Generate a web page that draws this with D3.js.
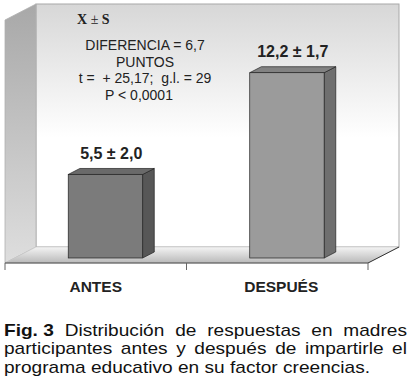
<!DOCTYPE html>
<html><head><meta charset="utf-8">
<script src="https://cdn.jsdelivr.net/npm/d3@7"></script>
<style>html,body{margin:0;padding:0;background:#fff;}svg{display:block;}</style>
</head><body>
<svg id="c" width="411" height="391"></svg>
<script>
const categories = ["ANTES", "DESPUÉS"];
const means = [5.5, 12.2];
const sds = [2.0, 1.7];
const barLabels = ["5,5 ± 2,0", "12,2 ± 1,7"];
const statLines = ["DIFERENCIA = 6,7", "PUNTOS", "t =  + 25,17;  g.l. = 29", "P < 0,0001"];
const yDomain = [0, 16];
const captionLines = [
  [{t:"Fig. 3", b:true}, {t:"Distribución"}, {t:"de"}, {t:"respuestas"}, {t:"en"}, {t:"madres"}],
  [{t:"participantes"}, {t:"antes"}, {t:"y"}, {t:"después"}, {t:"de"}, {t:"impartirle"}, {t:"el"}],
  [{t:"programa"}, {t:"educativo"}, {t:"en"}, {t:"su"}, {t:"factor"}, {t:"creencias."}]
];

const svg = d3.select("#c");
const defs = svg.append("defs");
const font = "'Liberation Sans', Arial, sans-serif";

// geometry
const x0 = 5, x1 = 368, yFront = 263;
const DX = 31, DY = -16;
const y = d3.scaleLinear().domain(yDomain).range([yFront, yFront - 243]);
const x = d3.scaleBand().domain(categories).range([x0, x1]).padding(0);

// gradients
const gBack = defs.append("linearGradient").attr("id","gb").attr("x1",0).attr("y1",0).attr("x2",0).attr("y2",1);
gBack.append("stop").attr("offset","0%").attr("stop-color","#d7d7d7");
gBack.append("stop").attr("offset","55%").attr("stop-color","#ffffff");
gBack.append("stop").attr("offset","100%").attr("stop-color","#ffffff");
const gLeft = defs.append("linearGradient").attr("id","gl").attr("x1",0).attr("y1",0).attr("x2",0).attr("y2",1);
gLeft.append("stop").attr("offset","0%").attr("stop-color","#a8a8a8");
gLeft.append("stop").attr("offset","100%").attr("stop-color","#dedede");
const gFloor = defs.append("linearGradient").attr("id","gf").attr("x1",0).attr("y1",0).attr("x2",0).attr("y2",1);
gFloor.append("stop").attr("offset","0%").attr("stop-color","#f4f4f4");
gFloor.append("stop").attr("offset","100%").attr("stop-color","#b9b9b9");

const yTop = y(yDomain[1]);
// back wall
svg.append("rect").attr("x", x0 + DX).attr("y", yTop + DY)
  .attr("width", x1 - x0).attr("height", yFront - yTop)
  .attr("fill","url(#gb)").attr("stroke","#a8a8a8").attr("stroke-width",1);
// left wall
svg.append("path").attr("d", d3.line()([[x0, yTop],[x0+DX, yTop+DY],[x0+DX, yFront+DY],[x0, yFront]]) + "Z")
  .attr("fill","url(#gl)").attr("stroke","#b0b0b0").attr("stroke-width",0.8);
// floor
svg.append("path").attr("d", d3.line()([[x0, yFront],[x0+DX, yFront+DY],[x1+DX, yFront+DY],[x1, yFront]]) + "Z")
  .attr("fill","url(#gf)").attr("stroke","#c8c8c8").attr("stroke-width",0.6);
// floor front edge & right edge
svg.append("line").attr("x1",x0).attr("x2",x1).attr("y1",yFront).attr("y2",yFront).attr("stroke","#444").attr("stroke-width",1);
svg.append("line").attr("x1",x1).attr("x2",x1+DX).attr("y1",yFront).attr("y2",yFront+DY).attr("stroke","#333").attr("stroke-width",1);
// ticks
const tickX = [x0].concat(categories.map(c => x(c) + x.bandwidth()));
svg.selectAll(".tk").data(tickX).enter().append("line")
  .attr("x1", d=>d).attr("x2", d=>d).attr("y1", yFront).attr("y2", yFront+7)
  .attr("stroke","#666").attr("stroke-width",1);

// bars
const z0 = 5/16, z1 = 11/16;
const ox = DX*z0, oy = DY*z0;
const bdx = DX*(z1-z0), bdy = DY*(z1-z0);
const bw = x.bandwidth()*0.41;
const cols = [
  {front:"#7b7b7b", side:"#575757", top:"#6a6a6a"},
  {front:"#9b9b9b", side:"#6f6f6f", top:"#828282"}
];
const bars = svg.selectAll(".bar").data(categories.map((c,i)=>({c, v:means[i], i}))).enter().append("g");
bars.each(function(d){
  const g = d3.select(this);
  const fx = x(d.c) + x.bandwidth()/2 - bw/2 + ox;
  const fy = y(d.v) + oy;
  const by = y(0) + oy;
  const col = cols[d.i];
  g.append("path").attr("d", d3.line()([[fx+bw, fy],[fx+bw+bdx, fy+bdy],[fx+bw+bdx, by+bdy],[fx+bw, by]])+"Z")
    .attr("fill", col.side).attr("stroke","#222").attr("stroke-width",0.7);
  g.append("path").attr("d", d3.line()([[fx, fy],[fx+bdx, fy+bdy],[fx+bw+bdx, fy+bdy],[fx+bw, fy]])+"Z")
    .attr("fill", col.top).attr("stroke","#222").attr("stroke-width",0.7);
  g.append("rect").attr("x", fx).attr("y", fy).attr("width", bw).attr("height", by-fy)
    .attr("fill", col.front).attr("stroke","#222").attr("stroke-width",0.7);
  g.append("text").attr("x", fx + bw/2 + bdx/2).attr("y", fy + bdy - 9.5)
    .attr("text-anchor","middle").attr("font-family",font).attr("font-weight","bold")
    .attr("font-size",16).attr("fill","#222").text(barLabels[d.i]);
});

// category labels
svg.selectAll(".cl").data(categories).enter().append("text")
  .attr("x", (d,i)=> x(d) + x.bandwidth()/2 + (i===1?4:0)).attr("y", 292)
  .attr("text-anchor","middle").attr("font-family",font).attr("font-weight","bold")
  .attr("font-size",15.5).attr("fill","#222").text(d=>d);

// X ± S
const xs = svg.append("text").attr("x",77).attr("y",24).attr("font-family","'Liberation Serif','Times New Roman',serif")
  .attr("font-weight","bold").attr("font-size",14).attr("fill","#222");
xs.append("tspan").text("X");
xs.append("tspan").attr("font-weight","normal").text(" ± ");
xs.append("tspan").text("S");

// stats text
svg.selectAll(".st").data(statLines).enter().append("text")
  .attr("x", (d,i)=> i===3 ? 139 : 145).attr("y", (d,i)=> 50 + i*16.6)
  .attr("text-anchor","middle").attr("font-family",font).attr("font-size",14)
  .attr("fill","#222").style("white-space","pre").text(d=>d);

// caption (justified, glyphs stretched horizontally per word)
const capLeft = 4, capRight = 407;
const capBase = [335.5, 354, 372.5];
const capSize = 16.4;
const cg = svg.append("g");
function measure(w){
  const t = cg.append("text").attr("font-family",font).attr("font-size",capSize)
    .attr("font-weight", w.b ? "bold" : "normal").style("white-space","pre").text(w.t);
  const l = t.node().getComputedTextLength(); t.remove(); return l;
}
const sp0 = measure({t:"a a"}) - 2*measure({t:"a"});
const last0 = captionLines[2].reduce((s,w)=>s+measure(w),0) + sp0*(captionLines[2].length-1);
const stretch = 366 / last0;
captionLines.forEach((line, li) => {
  const widths = line.map(w => measure(w) * stretch);
  const total = d3.sum(widths);
  const avail = capRight - capLeft;
  const gap = li < 2 ? (avail - total)/(line.length-1) : sp0 * stretch;
  let cx = capLeft;
  line.forEach((w,k) => {
    cg.append("text").attr("x", cx).attr("y", capBase[li]).attr("font-family",font).attr("font-size",capSize)
      .attr("textLength", widths[k]).attr("lengthAdjust","spacingAndGlyphs")
      .attr("font-weight", w.b ? "bold" : "normal").attr("fill","#111").style("white-space","pre").text(w.t);
    cx += widths[k] + gap;
  });
});
</script>
</body></html>
